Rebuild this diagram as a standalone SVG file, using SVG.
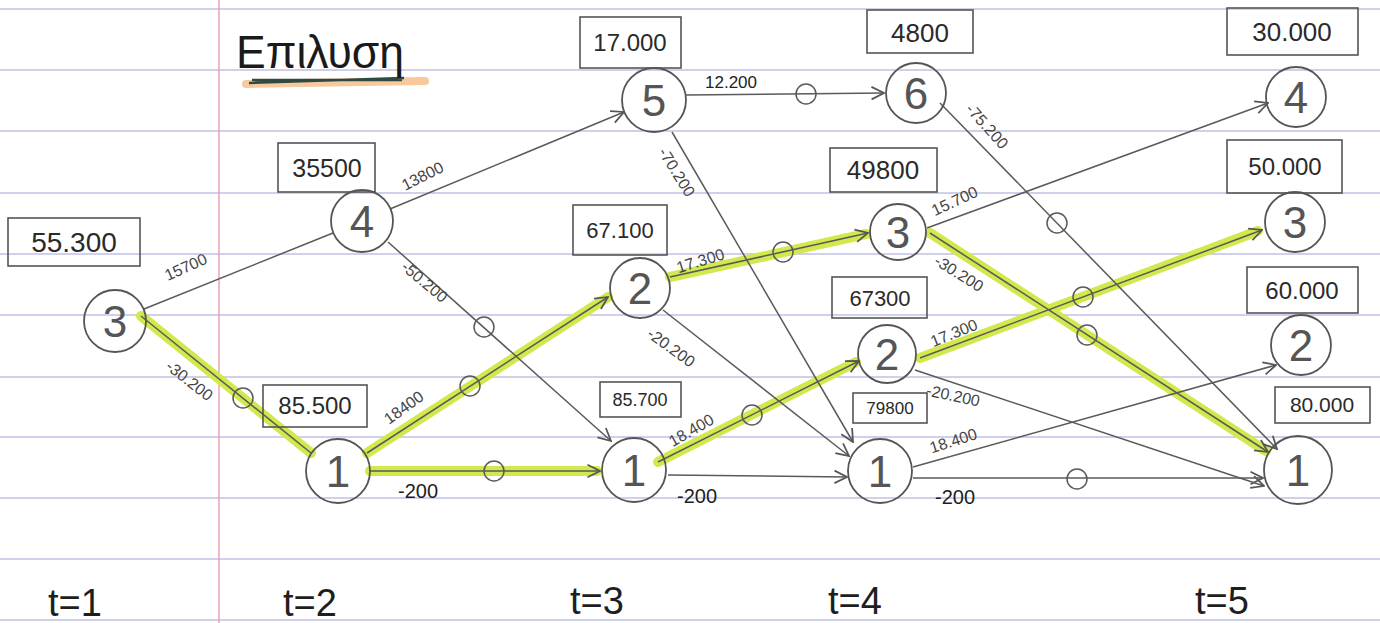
<svg xmlns="http://www.w3.org/2000/svg" width="1380" height="623" viewBox="0 0 1380 623">
<defs>
<style>
.rule{stroke:#cfd0ee;stroke-width:2}
.margin{stroke:#e9a3b5;stroke-width:1.5}
.edge{stroke:#5a5a5a;stroke-width:1.5;fill:none}
.hl{stroke:#d3e84c;stroke-width:10;stroke-linecap:round;fill:none}
.zero{stroke:#5a5a5a;stroke-width:1.5;fill:none}
.node{stroke:#555;stroke-width:1.8;fill:none}
.box{stroke:#555;stroke-width:1.6;fill:none}
.num{font-family:"Liberation Sans",Arial,sans-serif;font-size:44px;fill:#555;text-anchor:middle}
.val{font-family:"Liberation Sans",Arial,sans-serif;fill:#2a2a2a;text-anchor:middle}
.lbl{font-family:"Liberation Sans",Arial,sans-serif;font-size:16px;fill:#444;text-anchor:middle}
.lblb{font-family:"Liberation Sans",Arial,sans-serif;font-size:20px;fill:#1e1e1e;text-anchor:middle}
.time{font-family:"Liberation Sans",Arial,sans-serif;font-size:38px;fill:#1e1e1e;text-anchor:middle}
</style>
<marker id="arr" viewBox="0 0 12 12" refX="11" refY="6" markerWidth="15" markerHeight="15" markerUnits="userSpaceOnUse" orient="auto">
<path d="M1,1 L11,6 L1,11" fill="none" stroke="#555" stroke-width="1.4"/>
</marker>
</defs>

<g id="paper">
<rect x="0" y="0" width="1380" height="623" fill="#ffffff"/>
<line class="rule" x1="0" y1="9" x2="1380" y2="9"/>
<line class="rule" x1="0" y1="70" x2="1380" y2="70"/>
<line class="rule" x1="0" y1="131" x2="1380" y2="131"/>
<line class="rule" x1="0" y1="193" x2="1380" y2="193"/>
<line class="rule" x1="0" y1="254" x2="1380" y2="254"/>
<line class="rule" x1="0" y1="315" x2="1380" y2="315"/>
<line class="rule" x1="0" y1="377" x2="1380" y2="377"/>
<line class="rule" x1="0" y1="437" x2="1380" y2="437"/>
<line class="rule" x1="0" y1="498" x2="1380" y2="498"/>
<line class="rule" x1="0" y1="559" x2="1380" y2="559"/>
<line class="rule" x1="0" y1="620" x2="1380" y2="620"/>
<line class="margin" x1="219" y1="0" x2="219" y2="623"/>
</g>

<g id="title">
<line x1="246" y1="84" x2="425" y2="81" stroke="#f7c99c" stroke-width="8" stroke-linecap="round"/>
<path d="M249,83 L404,78 M252,80 L402,80" stroke="#2f4a40" stroke-width="2.5" fill="none"/>
<text x="320" y="68" font-family="Liberation Sans, Arial, sans-serif" font-size="46" fill="#1a1a1a" text-anchor="middle" textLength="168" lengthAdjust="spacingAndGlyphs">Επιλυση</text>
</g>

<g id="highlights">
<line class="hl" x1="141" y1="316" x2="311" y2="453"/>
<line class="hl" x1="367" y1="453" x2="608" y2="297"/>
<line class="hl" x1="370" y1="471" x2="597" y2="471"/>
<line class="hl" x1="670" y1="277" x2="866" y2="234"/>
<line class="hl" x1="658" y1="462" x2="856" y2="362"/>
<line class="hl" x1="930" y1="233" x2="1266" y2="451"/>
<line class="hl" x1="920" y1="358" x2="1258" y2="231"/>
</g>

<g id="connectors">
<line class="edge" x1="144" y1="309" x2="333" y2="233"/>
<text class="lbl" transform="translate(188,272) rotate(-24)">15700</text>
<line class="edge" x1="141" y1="316" x2="311" y2="453"/>
<circle class="zero" cx="243" cy="398" r="10"/>
<text class="lbl" transform="translate(186,385) rotate(38)">-30.200</text>
<line class="edge" x1="390" y1="209" x2="624" y2="112" marker-end="url(#arr)"/>
<text class="lbl" transform="translate(425,181) rotate(-27)">13800</text>
<line class="edge" x1="388" y1="242" x2="611" y2="441" marker-end="url(#arr)"/>
<circle class="zero" cx="484" cy="327" r="10"/>
<text class="lbl" transform="translate(421,286) rotate(40)">-50.200</text>
<line class="edge" x1="367" y1="453" x2="608" y2="297" marker-end="url(#arr)"/>
<circle class="zero" cx="470" cy="386" r="10"/>
<text class="lbl" transform="translate(407,412) rotate(-36)">18400</text>
<line class="edge" x1="370" y1="471" x2="600" y2="471" marker-end="url(#arr)"/>
<circle class="zero" cx="494" cy="471" r="10"/>
<text class="lblb" x="418" y="498">-200</text>
<line class="edge" x1="686" y1="95" x2="884" y2="93" marker-end="url(#arr)"/>
<circle class="zero" cx="806" cy="94" r="10"/>
<text class="lbl" x="731" y="88" style="font-size:17px;fill:#222">12.200</text>
<line class="edge" x1="672" y1="132" x2="853" y2="442" marker-end="url(#arr)"/>
<text class="lbl" transform="translate(672,175) rotate(58)">-70.200</text>
<line class="edge" x1="670" y1="277" x2="868" y2="233" marker-end="url(#arr)"/>
<circle class="zero" cx="783" cy="252" r="10"/>
<text class="lbl" transform="translate(702,266) rotate(-17)">17.300</text>
<line class="edge" x1="663" y1="310" x2="849" y2="456" marker-end="url(#arr)"/>
<text class="lbl" transform="translate(668,352) rotate(36)">-20.200</text>
<line class="edge" x1="658" y1="462" x2="859" y2="361" marker-end="url(#arr)"/>
<circle class="zero" cx="752" cy="415" r="10"/>
<text class="lbl" transform="translate(694,435) rotate(-30)">18.400</text>
<line class="edge" x1="668" y1="475" x2="847" y2="477" marker-end="url(#arr)"/>
<text class="lblb" x="697" y="503">-200</text>
<line class="edge" x1="940" y1="103" x2="1277" y2="449" marker-end="url(#arr)"/>
<circle class="zero" cx="1057" cy="223" r="10"/>
<text class="lbl" transform="translate(983,130) rotate(48)">-75.200</text>
<line class="edge" x1="927" y1="228" x2="1268" y2="103" marker-end="url(#arr)"/>
<text class="lbl" transform="translate(957,206) rotate(-25)">15.700</text>
<line class="edge" x1="930" y1="233" x2="1268" y2="452" marker-end="url(#arr)"/>
<circle class="zero" cx="1087" cy="335" r="10"/>
<text class="lbl" transform="translate(956,278) rotate(32)">-30.200</text>
<line class="edge" x1="920" y1="358" x2="1262" y2="230" marker-end="url(#arr)"/>
<circle class="zero" cx="1083" cy="297" r="10"/>
<text class="lbl" transform="translate(956,338) rotate(-22)">17.300</text>
<line class="edge" x1="915" y1="370" x2="1264" y2="486" marker-end="url(#arr)"/>
<text class="lbl" transform="translate(952,401) rotate(12)">-20.200</text>
<line class="edge" x1="913" y1="467" x2="1276" y2="365" marker-end="url(#arr)"/>
<text class="lbl" transform="translate(955,446) rotate(-18)">18.400</text>
<line class="edge" x1="913" y1="478" x2="1263" y2="478" marker-end="url(#arr)"/>
<circle class="zero" cx="1077" cy="479" r="10"/>
<text class="lblb" x="955" y="504">-200</text>
</g>

<g id="node-t1-3">
<rect class="box" x="8" y="218" width="132" height="48"/>
<text class="val" x="74" y="252" font-size="28">55.300</text>
<circle class="node" cx="115" cy="321" r="31"/>
<text class="num" x="115" y="337">3</text>
</g>
<g id="node-t2-4">
<rect class="box" x="278" y="143" width="97" height="49"/>
<text class="val" x="327" y="177" font-size="25">35500</text>
<circle class="node" cx="362" cy="221" r="31"/>
<text class="num" x="362" y="237">4</text>
</g>
<g id="node-t2-1">
<rect class="box" x="263" y="385" width="104" height="42"/>
<text class="val" x="315" y="414" font-size="24">85.500</text>
<circle class="node" cx="338" cy="471" r="32"/>
<text class="num" x="338" y="487">1</text>
</g>
<g id="node-t3-5">
<rect class="box" x="580" y="17" width="101" height="51"/>
<text class="val" x="630" y="51" font-size="24">17.000</text>
<circle class="node" cx="654" cy="100" r="32"/>
<text class="num" x="654" y="116">5</text>
</g>
<g id="node-t3-2">
<rect class="box" x="573" y="205" width="94" height="50"/>
<text class="val" x="620" y="238" font-size="22">67.100</text>
<circle class="node" cx="640" cy="288" r="30"/>
<text class="num" x="640" y="304">2</text>
</g>
<g id="node-t3-1">
<rect class="box" x="600" y="382" width="81" height="35"/>
<text class="val" x="640" y="406" font-size="18">85.700</text>
<circle class="node" cx="634" cy="470" r="32"/>
<text class="num" x="634" y="486">1</text>
</g>
<g id="node-t4-6">
<rect class="box" x="867" y="10" width="106" height="43"/>
<text class="val" x="920" y="42" font-size="26">4800</text>
<circle class="node" cx="916" cy="93" r="30"/>
<text class="num" x="916" y="109">6</text>
</g>
<g id="node-t4-3">
<rect class="box" x="830" y="148" width="107" height="44"/>
<text class="val" x="883" y="179" font-size="26">49800</text>
<circle class="node" cx="898" cy="232" r="28"/>
<text class="num" x="898" y="248">3</text>
</g>
<g id="node-t4-2">
<rect class="box" x="832" y="277" width="95" height="41"/>
<text class="val" x="880" y="306" font-size="22">67300</text>
<circle class="node" cx="887" cy="354" r="29"/>
<text class="num" x="887" y="370">2</text>
</g>
<g id="node-t4-1">
<rect class="box" x="853" y="393" width="74" height="30"/>
<text class="val" x="890" y="414" font-size="17">79800</text>
<circle class="node" cx="880" cy="471" r="32"/>
<text class="num" x="880" y="487">1</text>
</g>
<g id="node-t5-4">
<rect class="box" x="1227" y="8" width="131" height="47"/>
<text class="val" x="1292" y="41" font-size="26">30.000</text>
<circle class="node" cx="1296" cy="97" r="30"/>
<text class="num" x="1296" y="113">4</text>
</g>
<g id="node-t5-3">
<rect class="box" x="1227" y="140" width="115" height="53"/>
<text class="val" x="1285" y="175" font-size="24">50.000</text>
<circle class="node" cx="1295" cy="222" r="30"/>
<text class="num" x="1295" y="238">3</text>
</g>
<g id="node-t5-2">
<rect class="box" x="1247" y="267" width="111" height="46"/>
<text class="val" x="1302" y="299" font-size="24">60.000</text>
<circle class="node" cx="1301" cy="345" r="30"/>
<text class="num" x="1301" y="361">2</text>
</g>
<g id="node-t5-1">
<rect class="box" x="1275" y="387" width="95" height="36"/>
<text class="val" x="1322" y="412" font-size="21">80.000</text>
<circle class="node" cx="1298" cy="470" r="34"/>
<text class="num" x="1298" y="486">1</text>
</g>

<g id="time-axis">
<text class="time" x="75" y="616">t=1</text>
<text class="time" x="310" y="616">t=2</text>
<text class="time" x="597" y="614">t=3</text>
<text class="time" x="855" y="614">t=4</text>
<text class="time" x="1222" y="614">t=5</text>
</g>
</svg>
